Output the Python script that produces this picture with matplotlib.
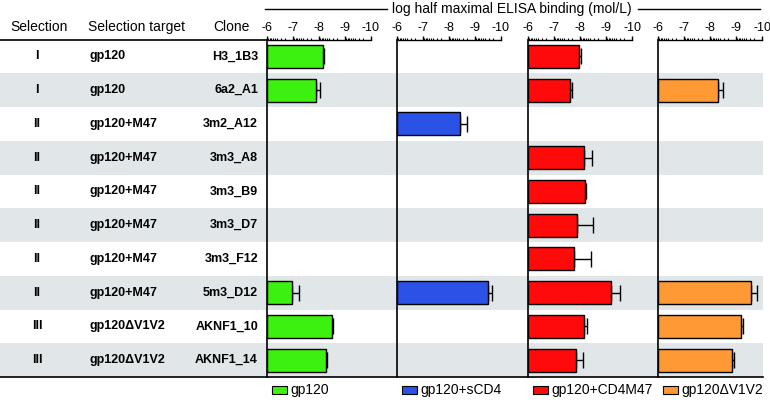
import matplotlib.pyplot as plt
import numpy as np
from matplotlib.patches import Rectangle

plt.rcParams['font.family'] = ['Liberation Sans', 'DejaVu Sans']

# table columns
selection = ["I", "I", "II", "II", "II", "II", "II", "II", "III", "III"]
target = ["gp120", "gp120", "gp120+M47", "gp120+M47", "gp120+M47", "gp120+M47",
          "gp120+M47", "gp120+M47", "gp120\u0394V1V2", "gp120\u0394V1V2"]
clones = ["H3_1B3", "6a2_A1", "3m2_A12", "3m3_A8", "3m3_B9", "3m3_D7",
          "3m3_F12", "5m3_D12", "AKNF1_10", "AKNF1_14"]

# log half maximal ELISA binding (mol/L), None = not measured
gp120 = [-8.15, -7.9, None, None, None, None, None, -6.97, -8.5, -8.27]
gp120_err = [0.05, 0.12, 0, 0, 0, 0, 0, 0.25, 0.05, 0.05]
scd4 = [None, None, -8.43, None, None, None, None, -9.5, None, None]
scd4_err = [0, 0, 0.27, 0, 0, 0, 0, 0.15, 0, 0]
cd4m47 = [-7.95, -7.6, None, -8.17, -8.2, -7.9, -7.76, -9.2, -8.15, -7.85]
cd4m47_err = [0.1, 0.1, 0, 0.3, 0.03, 0.6, 0.65, 0.33, 0.12, 0.27]
dv1v2 = [None, -8.3, None, None, None, None, None, -9.57, -9.2, -8.85]
dv1v2_err = [0, 0.2, 0, 0, 0, 0, 0, 0.25, 0.07, 0.07]

series = ["gp120", "gp120+sCD4", "gp120+CD4M47", "gp120\u0394V1V2"]
colors = ["#3cf010", "#2a52e6", "#ff0a0a", "#ff9933"]
values = [gp120, scd4, cd4m47, dv1v2]
errors = [gp120_err, scd4_err, cd4m47_err, dv1v2_err]
ticks = [-6, -7, -8, -9, -10]

W, H = 770, 400
fig = plt.figure(figsize=(W / 100, H / 100), dpi=100)

# background axes in pixel coordinates
bg = fig.add_axes([0, 0, 1, 1])
bg.set_xlim(0, W)
bg.set_ylim(H, 0)
bg.axis("off")

top, bottom = 39.5, 377
n = len(clones)
rh = (bottom - top) / n
for i in range(n):
    yc = top + rh * (i + 0.5)
    if i % 2 == 1:
        bg.add_patch(Rectangle((0, top + rh * i), 763, rh, color="#e1e7e9", lw=0, zorder=0))
    bg.text(37, yc, selection[i], ha="center", va="center", fontsize=9, fontweight="bold")
    bg.text(89, yc, target[i], ha="left", va="center", fontsize=9, fontweight="bold")
    bg.text(258, yc, clones[i], ha="right", va="center", fontsize=9, fontweight="bold")

bg.plot([0, 267], [top, top], color="black", lw=1.2)
bg.plot([0, 763], [bottom, bottom], color="black", lw=1.2)

bg.text(10, 27, "Selection", ha="left", va="center", fontsize=10)
bg.text(88, 27, "Selection target", ha="left", va="center", fontsize=10)
bg.text(250, 27, "Clone", ha="right", va="center", fontsize=10)

bg.text(512, 9, "log half maximal ELISA binding (mol/L)", ha="center", va="center", fontsize=10)
bg.plot([265, 387], [9, 9], color="black", lw=1)
bg.plot([638, 760], [9, 9], color="black", lw=1)

panel_left = [267, 397, 528, 658]
pw = 104
minor = []
for k in range(6, 10):
    for m in range(9, 1, -1):
        minor.append(-k - (1 - np.log10(m)))

for p in range(4):
    ax = fig.add_axes([panel_left[p] / W, (H - bottom) / H, pw / W, (bottom - top) / H])
    ax.patch.set_alpha(0)
    ax.set_xlim(-6, -10)
    ax.set_ylim(n - 0.5, -0.5)
    for s in ["right", "bottom"]:
        ax.spines[s].set_visible(False)
    ax.spines["left"].set_linewidth(1.2)
    ax.spines["top"].set_linewidth(1.0)
    ax.xaxis.tick_top()
    ax.set_xticks(ticks)
    ax.set_xticklabels([str(t) for t in ticks], fontsize=9)
    ax.set_xticks(minor, minor=True)
    ax.tick_params(axis="x", which="major", length=3, width=1, pad=1)
    ax.tick_params(axis="x", which="minor", length=1.6, width=0.8)
    ax.set_yticks([])
    for i in range(n):
        v = values[p][i]
        if v is None:
            continue
        ax.barh(i, v + 6, left=-6, height=0.68, color=colors[p], edgecolor="black", lw=1, zorder=3)
        # one-sided error bar, pointing away from the baseline
        ax.errorbar(v, i, xerr=[[errors[p][i]], [0]], fmt="none", ecolor="black",
                    elinewidth=1, capsize=5.5, capthick=1, zorder=2)
    # legend entry
    bg.add_patch(Rectangle((panel_left[p] + 5, 386), 15, 8, facecolor=colors[p],
                           edgecolor="black", lw=0.8))
    bg.text(panel_left[p] + 23, 390, series[p], ha="left", va="center", fontsize=10)

fig.savefig("out.png", dpi=100)
